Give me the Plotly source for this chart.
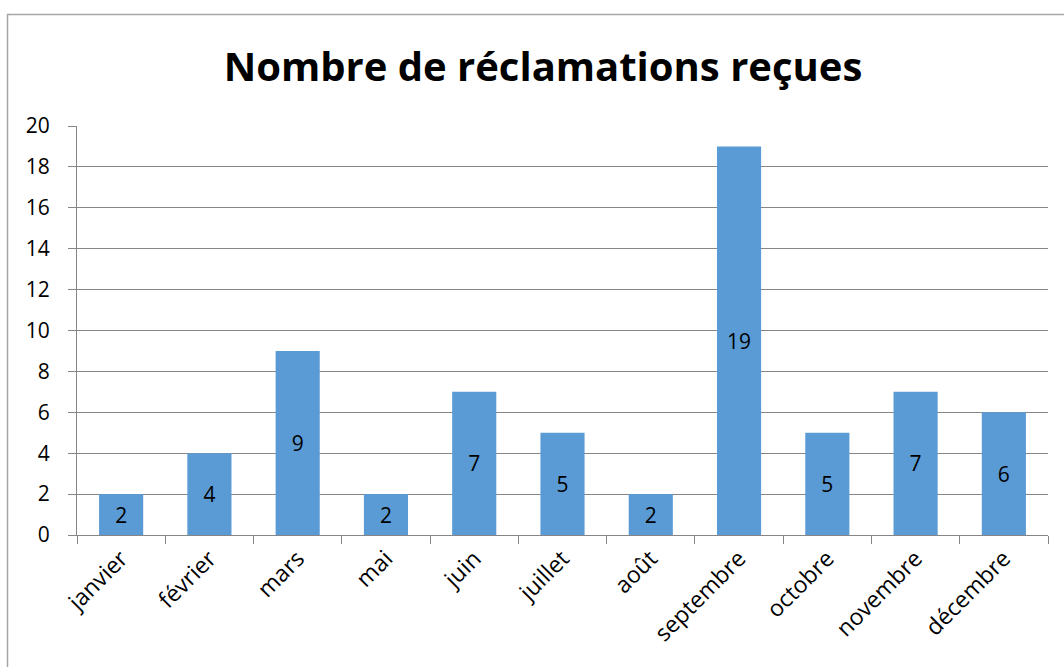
import plotly.graph_objects as go

months = ["janvier", "février", "mars", "mai", "juin", "juillet", "août",
          "septembre", "octobre", "novembre", "décembre"]
counts = [2, 4, 9, 2, 7, 5, 2, 19, 5, 7, 6]
y_ticks = [0, 2, 4, 6, 8, 10, 12, 14, 16, 18, 20]
title_text = "Nombre de réclamations reçues"

FONT = "Open Sans"
L, R, T, B = 77, 16, 126, 132
W, H = 1064, 667
pw, ph = W - L - R, H - T - B

fig = go.Figure(go.Bar(
    x=months, y=counts, text=[str(c) for c in counts],
    textposition="inside", insidetextanchor="middle",
    textfont=dict(family=FONT, size=21, color="black"),
    marker=dict(color="#5B9BD5", line=dict(width=0)),
    textangle=0, cliponaxis=False,
))

fig.update_layout(
    width=W, height=H,
    margin=dict(l=L, r=R, t=T, b=B, autoexpand=False),
    paper_bgcolor="white", plot_bgcolor="white",
    bargap=0.5, showlegend=False,
    title=dict(text="<b>" + title_text + "</b>", x=543 / W, xanchor="center",
               y=1 - 67 / H, yanchor="middle",
               font=dict(family=FONT, size=40, color="black")),
    xaxis=dict(type="category", tickangle=-45, tickson="boundaries",
               ticks="outside", ticklen=8, tickcolor="#868686",
               showline=True, linecolor="#868686", linewidth=1,
               tickfont=dict(family=FONT, size=23, color="black"),
               showgrid=False, automargin=False),
    yaxis=dict(range=[0, 20], tickvals=y_ticks, ticks="outside", ticklen=8,
               tickcolor="#868686", showgrid=True, gridcolor="#868686",
               gridwidth=1, showline=True, linecolor="#868686", linewidth=1,
               tickfont=dict(family=FONT, size=21, color="black"),
               zeroline=False, ticklabelstandoff=14, automargin=False),
)

px = lambda v: (v - L) / pw
py = lambda v: (H - B - v) / ph
fig.add_shape(type="rect", xref="paper", yref="paper",
              x0=px(7.5), x1=px(1090), y0=py(680), y1=py(14.5),
              line=dict(color="#A6A6A6", width=1.5), layer="below")

fig.write_html("out.html", config={"displayModeBar": False},
               post_script="document.body.style.margin='0';document.body.style.overflow='hidden';")
